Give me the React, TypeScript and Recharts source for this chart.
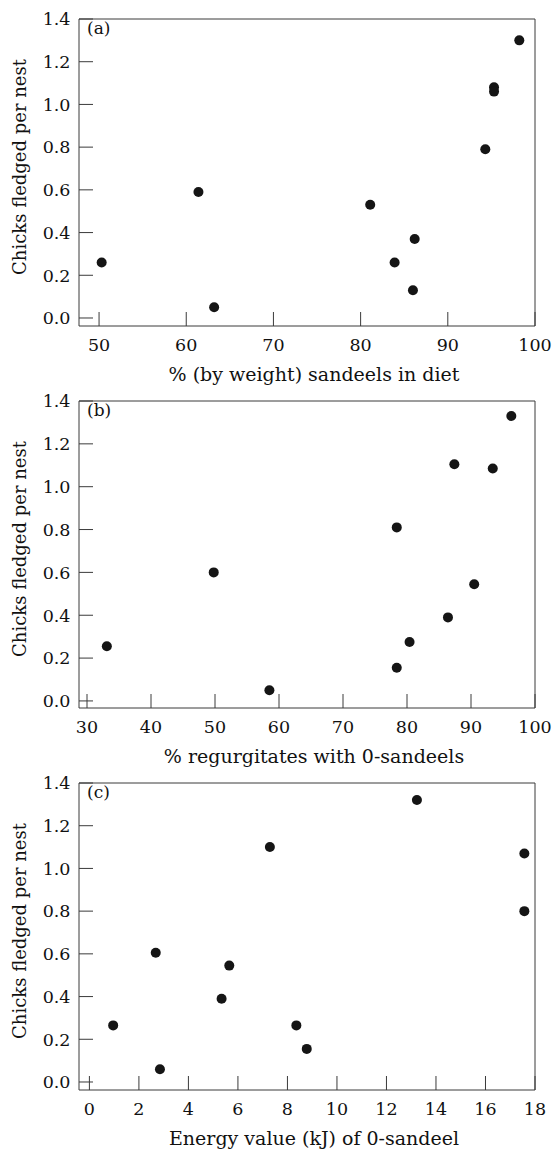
import { ReferenceArea, Scatter, ScatterChart, XAxis, YAxis, Label } from "recharts";

// panel (a): % (by weight) sandeels in diet
const dietPct = [50.3, 61.4, 63.2, 81.1, 83.9, 86.2, 86.0, 94.3, 95.3, 95.3, 98.2];
const dietChicks = [0.26, 0.59, 0.05, 0.53, 0.26, 0.37, 0.13, 0.79, 1.08, 1.06, 1.3];

// panel (b): % regurgitates with 0-sandeels
const regurgPct = [33.1, 49.8, 58.5, 78.4, 78.4, 80.4, 86.4, 90.5, 87.4, 93.4, 96.3];
const regurgChicks = [0.255, 0.6, 0.05, 0.155, 0.81, 0.275, 0.39, 0.545, 1.105, 1.085, 1.33];

// panel (c): energy value (kJ) of 0-sandeel
const energyKJ = [0.96, 2.68, 2.85, 5.34, 5.65, 7.29, 8.36, 8.78, 13.23, 17.57, 17.57];
const energyChicks = [0.265, 0.605, 0.06, 0.39, 0.545, 1.1, 0.265, 0.155, 1.32, 1.07, 0.8];

const yTicks = [0, 0.2, 0.4, 0.6, 0.8, 1.0, 1.2, 1.4];
const dietTicks = [50, 60, 70, 80, 90, 100];
const regurgTicks = [30, 40, 50, 60, 70, 80, 90, 100];
const energyTicks = [0, 2, 4, 6, 8, 10, 12, 14, 16, 18];

const FONT = "'DejaVu Serif', serif";
const INK = "#111";
const LINE = "#3a3a3a";
const TICK_LEN = 14;
const X_MARGIN = 13;
const Y_MARGIN = 8.5;

const toPoints = (xs: number[], ys: number[]) => xs.map((x, i) => ({ x, y: ys[i] }));

const XTick = (props: any) => {
  const { x, y, payload } = props;
  const axisY = y - X_MARGIN;
  return (
    <g>
      <line x1={x} x2={x} y1={axisY} y2={axisY - TICK_LEN} stroke={LINE} />
      <text x={x} y={y} dy="0.71em" textAnchor="middle" fill={INK} fontSize={17.5} fontFamily={FONT}>
        {payload.value}
      </text>
    </g>
  );
};

const YTick = (props: any) => {
  const { x, y, payload } = props;
  const axisX = x + Y_MARGIN;
  return (
    <g>
      <line x1={axisX} x2={axisX + TICK_LEN} y1={y} y2={y} stroke={LINE} />
      <text x={x} y={y} dy="0.36em" textAnchor="end" fill={INK} fontSize={17.5} fontFamily={FONT}>
        {payload.value.toFixed(1)}
      </text>
    </g>
  );
};

const Dot = (props: any) => <circle cx={props.cx} cy={props.cy} r={5} fill="#151515" />;

type PanelProps = {
  top: number;
  tag: string;
  xTitle: string;
  xDomain: [number, number];
  yDomain: [number, number];
  xTicks: number[];
  data: { x: number; y: number }[];
};

function Panel({ top, tag, xTitle, xDomain, yDomain, xTicks, data }: PanelProps) {
  return (
    <div style={{ position: "absolute", left: 0, top }}>
      <ScatterChart width={554} height={393} margin={{ top: 19, right: 19, bottom: 10, left: 0 }}>
        <XAxis
          type="number"
          dataKey="x"
          domain={xDomain}
          ticks={xTicks}
          allowDataOverflow
          interval={0}
          height={57}
          axisLine={false}
          tickLine={false}
          tickSize={0}
          tickMargin={X_MARGIN}
          tick={<XTick />}
        >
          <Label
            content={({ viewBox }: any) => (
              <text
                x={viewBox.x + viewBox.width / 2 + 7}
                y={viewBox.y + 55}
                textAnchor="middle"
                fill={INK}
                fontSize={19}
                fontFamily={FONT}
              >
                {xTitle}
              </text>
            )}
          />
        </XAxis>
        <YAxis
          type="number"
          dataKey="y"
          domain={yDomain}
          ticks={yTicks}
          allowDataOverflow
          interval={0}
          width={79}
          axisLine={false}
          tickLine={false}
          tickSize={0}
          tickMargin={Y_MARGIN}
          tick={<YTick />}
        >
          <Label
            content={({ viewBox }: any) => {
              const cx = viewBox.x + 25.5;
              const cy = viewBox.y + viewBox.height / 2 - 5.5;
              return (
                <text
                  x={cx}
                  y={cy}
                  transform={`rotate(-90 ${cx} ${cy})`}
                  textAnchor="middle"
                  fill={INK}
                  fontSize={18}
                  fontFamily={FONT}
                >
                  Chicks fledged per nest
                </text>
              );
            }}
          />
        </YAxis>
        <ReferenceArea
          x1={xDomain[0]}
          x2={xDomain[1]}
          y1={yDomain[0]}
          y2={yDomain[1]}
          fill="none"
          stroke={LINE}
          strokeWidth={1}
          label={({ viewBox }: any) => (
            <text x={viewBox.x + 8} y={viewBox.y + 14.5} fill={INK} fontSize={17} fontFamily={FONT}>
              {tag}
            </text>
          )}
        />
        <Scatter data={data} shape={<Dot />} isAnimationActive={false} />
      </ScatterChart>
    </div>
  );
}

export default function App() {
  return (
    <div
      style={{
        position: "absolute",
        left: 0,
        top: 0,
        width: 554,
        height: 1149,
        overflow: "hidden",
        background: "#fff",
      }}
    >
      <Panel
        top={0}
        tag="(a)"
        xTitle="% (by weight) sandeels in diet"
        xDomain={[47.7, 100]}
        yDomain={[-0.0375, 1.4]}
        xTicks={dietTicks}
        data={toPoints(dietPct, dietChicks)}
      />
      <Panel
        top={382}
        tag="(b)"
        xTitle="% regurgitates with 0-sandeels"
        xDomain={[28.75, 100]}
        yDomain={[-0.033, 1.4]}
        xTicks={regurgTicks}
        data={toPoints(regurgPct, regurgChicks)}
      />
      <Panel
        top={764}
        tag="(c)"
        xTitle="Energy value (kJ) of 0-sandeel"
        xDomain={[-0.42, 18]}
        yDomain={[-0.0375, 1.4]}
        xTicks={energyTicks}
        data={toPoints(energyKJ, energyChicks)}
      />
    </div>
  );
}
